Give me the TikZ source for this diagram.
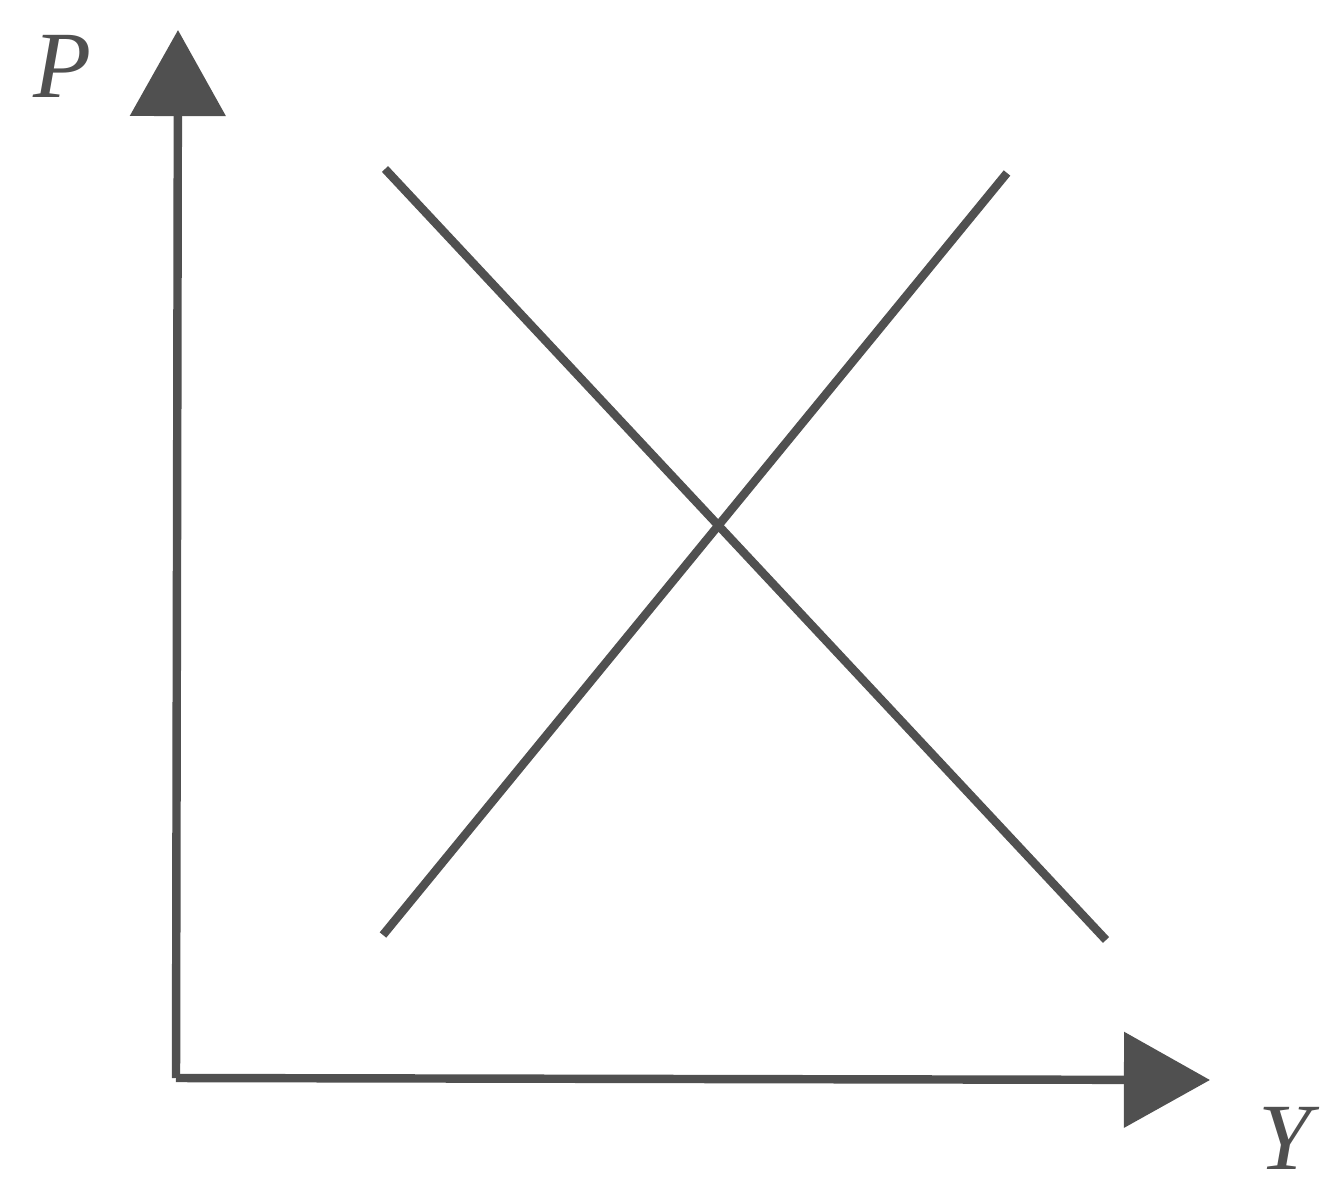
\documentclass[tikz,border=0pt]{standalone}
\usepackage{fontspec}
\setmainfont{Liberation Serif}
\usetikzlibrary{positioning,arrows.meta}
\definecolor{inkgray}{RGB}{80,80,80}
\tikzset{
  axisline/.style={draw=inkgray,line width=2.4pt,-{Triangle[length=0.86cm,width=0.94cm]}},
  curveline/.style={draw=inkgray,line width=2.4pt},
  axislabel/.style={inkgray,font=\fontsize{27}{27}\selectfont\itshape,inner sep=0pt}
}
\begin{document}
\begin{tikzpicture}[x=0.01cm,y=-0.01cm]
        \useasboundingbox (0,0) rectangle (1339,1191);
        % axes
        \coordinate (origin) at (176,1078);
        \coordinate (ptop) at (178,30);
        \coordinate (yend) at (1210,1080);
        \draw[axisline] (origin) -- (ptop);
        \draw[axisline] (origin) -- (yend);
        \node[axislabel] (plabel) at (62,66) {P};
        \node[axislabel] (ylabel) at (1285,1138) {Y};
        % demand and supply
        \coordinate (dtop) at (385,169);
        \coordinate (dbot) at (1106,940);
        \coordinate (sbot) at (383,935);
        \coordinate (stop) at (1007,173);
        \draw[curveline] (dtop) -- (dbot);
        \draw[curveline] (sbot) -- (stop);
\end{tikzpicture}
\end{document}
